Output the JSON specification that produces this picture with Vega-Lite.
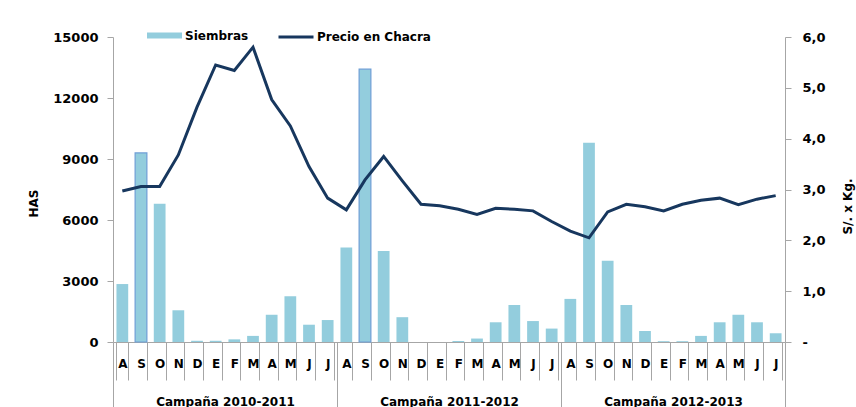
{
  "$schema": "https://vega.github.io/schema/vega-lite/v6.json",
  "width": 672,
  "height": 305,
  "autosize": {"type": "none"},
  "padding": {"left": 113, "top": 37, "right": 71, "bottom": 65},
  "background": "white",
  "config": {
    "view": {"stroke": null},
    "font": "DejaVu Sans",
    "axis": {"labelFont": "DejaVu Sans", "titleFont": "DejaVu Sans", "grid": false},
    "legend": {"labelFont": "DejaVu Sans"}
  },
  "data": {
    "values": [
      {"mes": "2010-08", "campana": "Campaña 2010-2011", "siembras": 2850, "precio": 2.97},
      {"mes": "2010-09", "campana": "Campaña 2010-2011", "siembras": 9300, "precio": 3.06},
      {"mes": "2010-10", "campana": "Campaña 2010-2011", "siembras": 6800, "precio": 3.06},
      {"mes": "2010-11", "campana": "Campaña 2010-2011", "siembras": 1560, "precio": 3.68},
      {"mes": "2010-12", "campana": "Campaña 2010-2011", "siembras": 60, "precio": 4.62},
      {"mes": "2011-01", "campana": "Campaña 2010-2011", "siembras": 60, "precio": 5.45},
      {"mes": "2011-02", "campana": "Campaña 2010-2011", "siembras": 130, "precio": 5.34},
      {"mes": "2011-03", "campana": "Campaña 2010-2011", "siembras": 300, "precio": 5.8},
      {"mes": "2011-04", "campana": "Campaña 2010-2011", "siembras": 1340, "precio": 4.77},
      {"mes": "2011-05", "campana": "Campaña 2010-2011", "siembras": 2250, "precio": 4.25},
      {"mes": "2011-06", "campana": "Campaña 2010-2011", "siembras": 850, "precio": 3.45},
      {"mes": "2011-07", "campana": "Campaña 2010-2011", "siembras": 1080, "precio": 2.83},
      {"mes": "2011-08", "campana": "Campaña 2011-2012", "siembras": 4650, "precio": 2.6},
      {"mes": "2011-09", "campana": "Campaña 2011-2012", "siembras": 13420, "precio": 3.19},
      {"mes": "2011-10", "campana": "Campaña 2011-2012", "siembras": 4480, "precio": 3.65},
      {"mes": "2011-11", "campana": "Campaña 2011-2012", "siembras": 1220, "precio": 3.17},
      {"mes": "2011-12", "campana": "Campaña 2011-2012", "siembras": 0, "precio": 2.71},
      {"mes": "2012-01", "campana": "Campaña 2011-2012", "siembras": 0, "precio": 2.68},
      {"mes": "2012-02", "campana": "Campaña 2011-2012", "siembras": 50, "precio": 2.61},
      {"mes": "2012-03", "campana": "Campaña 2011-2012", "siembras": 170, "precio": 2.51},
      {"mes": "2012-04", "campana": "Campaña 2011-2012", "siembras": 970, "precio": 2.63},
      {"mes": "2012-05", "campana": "Campaña 2011-2012", "siembras": 1820, "precio": 2.61},
      {"mes": "2012-06", "campana": "Campaña 2011-2012", "siembras": 1030, "precio": 2.58},
      {"mes": "2012-07", "campana": "Campaña 2011-2012", "siembras": 660, "precio": 2.37},
      {"mes": "2012-08", "campana": "Campaña 2012-2013", "siembras": 2120, "precio": 2.18},
      {"mes": "2012-09", "campana": "Campaña 2012-2013", "siembras": 9800, "precio": 2.05},
      {"mes": "2012-10", "campana": "Campaña 2012-2013", "siembras": 3990, "precio": 2.56},
      {"mes": "2012-11", "campana": "Campaña 2012-2013", "siembras": 1820, "precio": 2.71},
      {"mes": "2012-12", "campana": "Campaña 2012-2013", "siembras": 540, "precio": 2.66},
      {"mes": "2013-01", "campana": "Campaña 2012-2013", "siembras": 40, "precio": 2.58},
      {"mes": "2013-02", "campana": "Campaña 2012-2013", "siembras": 40, "precio": 2.71},
      {"mes": "2013-03", "campana": "Campaña 2012-2013", "siembras": 300, "precio": 2.79},
      {"mes": "2013-04", "campana": "Campaña 2012-2013", "siembras": 970, "precio": 2.83},
      {"mes": "2013-05", "campana": "Campaña 2012-2013", "siembras": 1340, "precio": 2.7},
      {"mes": "2013-06", "campana": "Campaña 2012-2013", "siembras": 970, "precio": 2.81},
      {"mes": "2013-07", "campana": "Campaña 2012-2013", "siembras": 430, "precio": 2.88}
    ]
  },
  "layer": [
    {
      "mark": {"type": "bar", "strokeWidth": 1.2},
      "encoding": {
        "x": {
          "field": "mes",
          "type": "nominal",
          "scale": {"type": "band", "paddingInner": 0.37, "paddingOuter": 0.185},
          "axis": {
            "orient": "bottom",
            "title": null,
            "tickBand": "extent",
            "tickSize": 38,
            "tickColor": "#A6A6A6",
            "domainColor": "#A6A6A6",
            "labelPadding": -22,
            "labelAngle": 0,
            "labelFontSize": 12,
            "labelFontWeight": "bold",
            "labelColor": "black",
            "labelOverlap": false,
            "labelExpr": "isString(datum.value) ? ['E','F','M','A','M','J','J','A','S','O','N','D'][toNumber(substring(datum.value,5,7))-1] : ''"
          }
        },
        "y": {
          "field": "siembras",
          "type": "quantitative",
          "scale": {"domain": [0, 15000]},
          "axis": {
            "values": [0, 3000, 6000, 9000, 12000, 15000],
            "format": "d",
            "title": "HAS",
            "tickSize": 6,
            "labelPadding": 9,
            "domainColor": "#A6A6A6",
            "tickColor": "#A6A6A6",
            "labelFontSize": 13,
            "labelFontWeight": "bold",
            "labelColor": "black",
            "titleFontSize": 12,
            "titleFontWeight": "bold",
            "titleColor": "black",
            "titleAngle": -90,
            "titleBaseline": "middle",
            "titleX": -80,
            "titleY": 166
          }
        },
        "color": {
          "datum": "Siembras",
          "type": "nominal",
          "scale": {"range": ["#93CDDD"]},
          "legend": {
            "orient": "none",
            "legendX": 34,
            "legendY": -19,
            "direction": "horizontal",
            "title": null,
            "padding": 0,
            "symbolType": "M-1,-0.17H1V0.17H-1Z",
            "symbolSize": 1225,
            "symbolStrokeWidth": 0,
            "labelOffset": 3,
            "labelFontSize": 12,
            "labelFontWeight": "bold",
            "labelColor": "black"
          }
        },
        "stroke": {
          "condition": {"test": "datum.mes === '2010-09' || datum.mes === '2011-09'", "value": "#6F9ED6"},
          "value": "transparent"
        }
      }
    },
    {
      "mark": {"type": "line", "strokeWidth": 3},
      "encoding": {
        "x": {
          "field": "mes",
          "type": "nominal",
          "scale": {"type": "band", "paddingInner": 0.37, "paddingOuter": 0.185},
          "axis": null
        },
        "y": {
          "field": "precio",
          "type": "quantitative",
          "scale": {"domain": [0, 6]},
          "axis": {
            "orient": "right",
            "values": [0, 1, 2, 3, 4, 5, 6],
            "labelExpr": "datum.value == 0 ? '-' : replace(format(datum.value, '.1f'), '.', ',')",
            "title": "S/. x Kg.",
            "tickSize": 6,
            "labelPadding": 11,
            "domainColor": "#A6A6A6",
            "tickColor": "#A6A6A6",
            "labelFontSize": 13,
            "labelFontWeight": "bold",
            "labelColor": "black",
            "titleFontSize": 12,
            "titleFontWeight": "bold",
            "titleColor": "black",
            "titleAngle": 270,
            "titleBaseline": "middle",
            "titleX": 62,
            "titleY": 169
          }
        },
        "stroke": {
          "datum": "Precio en Chacra",
          "type": "nominal",
          "scale": {"range": ["#17375E"]},
          "legend": {
            "orient": "none",
            "legendX": 164,
            "legendY": -19,
            "direction": "horizontal",
            "title": null,
            "padding": 0,
            "symbolType": "stroke",
            "symbolSize": 1225,
            "symbolStrokeWidth": 3,
            "labelOffset": 2,
            "labelFontSize": 12,
            "labelFontWeight": "bold",
            "labelColor": "black"
          }
        }
      }
    },
    {
      "mark": {"type": "rule", "opacity": 0},
      "encoding": {
        "x": {
          "field": "campana",
          "type": "nominal",
          "scale": {"type": "band", "paddingInner": 0, "paddingOuter": 0},
          "axis": {
            "orient": "bottom",
            "title": null,
            "domain": false,
            "tickBand": "extent",
            "tickSize": 65,
            "tickColor": "#A6A6A6",
            "labelPadding": -11,
            "labelAngle": 0,
            "labelFontSize": 12,
            "labelFontWeight": "bold",
            "labelColor": "black"
          }
        }
      }
    }
  ],
  "resolve": {"scale": {"x": "independent", "y": "independent", "stroke": "independent"}}
}
